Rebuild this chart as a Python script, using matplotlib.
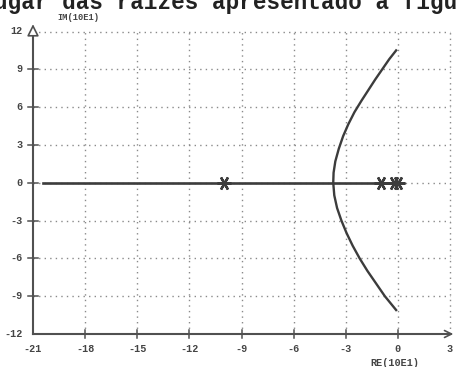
import matplotlib
matplotlib.use("Agg")
import matplotlib.pyplot as plt

# ---- data ----
x_ticks = [-21, -18, -15, -12, -9, -6, -3, 0, 3]
y_ticks = [-12, -9, -6, -3, 0, 3, 6, 9, 12]
real_axis_re = [-20.4, 0.0]
real_axis_im = [0.0, 0.0]
branch_re = [-0.1, -0.5, -0.9, -1.3, -1.7, -2.1, -2.5, -2.85, -3.15, -3.4,
             -3.6, -3.7, -3.72, -3.66, -3.5, -3.25, -2.95, -2.6, -2.2,
             -1.75, -1.25, -0.75, -0.1]
branch_im = [10.5, 9.8, 9.0, 8.2, 7.35, 6.5, 5.6, 4.65, 3.7, 2.7,
             1.7, 0.8, 0.0, -1.0, -2.0, -3.0, -4.0, -5.0, -6.0,
             -7.0, -8.0, -9.0, -10.1]
poles_re = [-10.0, -1.0, -0.2, 0.0]
poles_im = [0.0, 0.0, 0.0, 0.0]
title_text = "ugar das raízes apresentado a figu"
ylabel_text = "IM(10E1)"
xlabel_text = "RE(10E1)"

W, H = 459, 367
fig = plt.figure(figsize=(W / 100, H / 100), dpi=100)
fig.patch.set_facecolor("white")

left, right = 33 / W, 450 / W
bottom, top = 1 - 334 / H, 1 - 31.5 / H
ax = fig.add_axes([left, bottom, right - left, top - bottom])
ax.set_xlim(-21, 3)
ax.set_ylim(-12, 12)
for s in ax.spines.values():
    s.set_visible(False)
ax.set_xticks([])
ax.set_yticks([])

grid_col = "#8a8a8a"
for xv in x_ticks[1:]:
    ax.plot([xv, xv], [-12, 12], color=grid_col, lw=1.0,
            linestyle=(0, (1, 3)), zorder=1, clip_on=False)
for yv in y_ticks[1:]:
    ax.plot([-21, 3], [yv, yv], color=grid_col, lw=1.0,
            linestyle=(0, (1, 3)), zorder=1, clip_on=False)

axis_col = "#505050"
ax.plot([-21, -21], [-12, 12], color=axis_col, lw=1.5, clip_on=False, zorder=3)
ax.plot([-21, 3], [-12, -12], color=axis_col, lw=1.5, clip_on=False, zorder=3)
# arrow heads
ax.annotate("", xy=(-21, 12.8), xytext=(-21, 11.4),
            arrowprops=dict(arrowstyle="-|>,head_length=0.7,head_width=0.35",
                            fc="white", ec=axis_col, lw=1.2),
            annotation_clip=False)
ax.annotate("", xy=(3.35, -12), xytext=(2.2, -12),
            arrowprops=dict(arrowstyle="->,head_length=0.5,head_width=0.25",
                            ec=axis_col, lw=1.2),
            annotation_clip=False)

# tick marks
for xv in x_ticks[1:-1]:
    ax.plot([xv, xv], [-12.35, -11.65], color=axis_col, lw=1.1, clip_on=False)
for yv in y_ticks[1:-1]:
    ax.plot([-21.3, -20.7], [yv, yv], color=axis_col, lw=1.1, clip_on=False)

lab_font = dict(family="Liberation Mono", fontsize=7.3, color="#444444",
                fontweight="bold")
for xv in x_ticks:
    ax.text(xv, -13.2, f"{xv}", ha="center", va="center", **lab_font)
for yv in y_ticks:
    ax.text(-21.6, yv, f"{yv}", ha="right", va="center", **lab_font)

# locus
loc_col = "#3c3c3c"
ax.plot(real_axis_re, real_axis_im, color=loc_col, lw=1.9, zorder=4)
ax.plot(branch_re, branch_im, color=loc_col, lw=1.7, zorder=4,
        solid_joinstyle="round")
ax.plot(poles_re, poles_im, linestyle="none", marker=(6, 2, 90),
        markersize=10, mec=loc_col, mew=1.7, zorder=5)

fig.text(78 / W, 1 - 18 / H, ylabel_text, ha="center", va="center",
         family="Liberation Mono", fontsize=6.3, color="#444444",
         fontweight="bold")
fig.text(395 / W, 1 - 363 / H, xlabel_text, ha="center", va="center",
         **lab_font)

fig.text(-6 / W, 1 - 9.5 / H, title_text, ha="left", va="baseline",
         family="Liberation Mono", fontsize=16.3, fontweight="bold",
         color="#222222")

fig.savefig("out.png", dpi=100, facecolor="white")
